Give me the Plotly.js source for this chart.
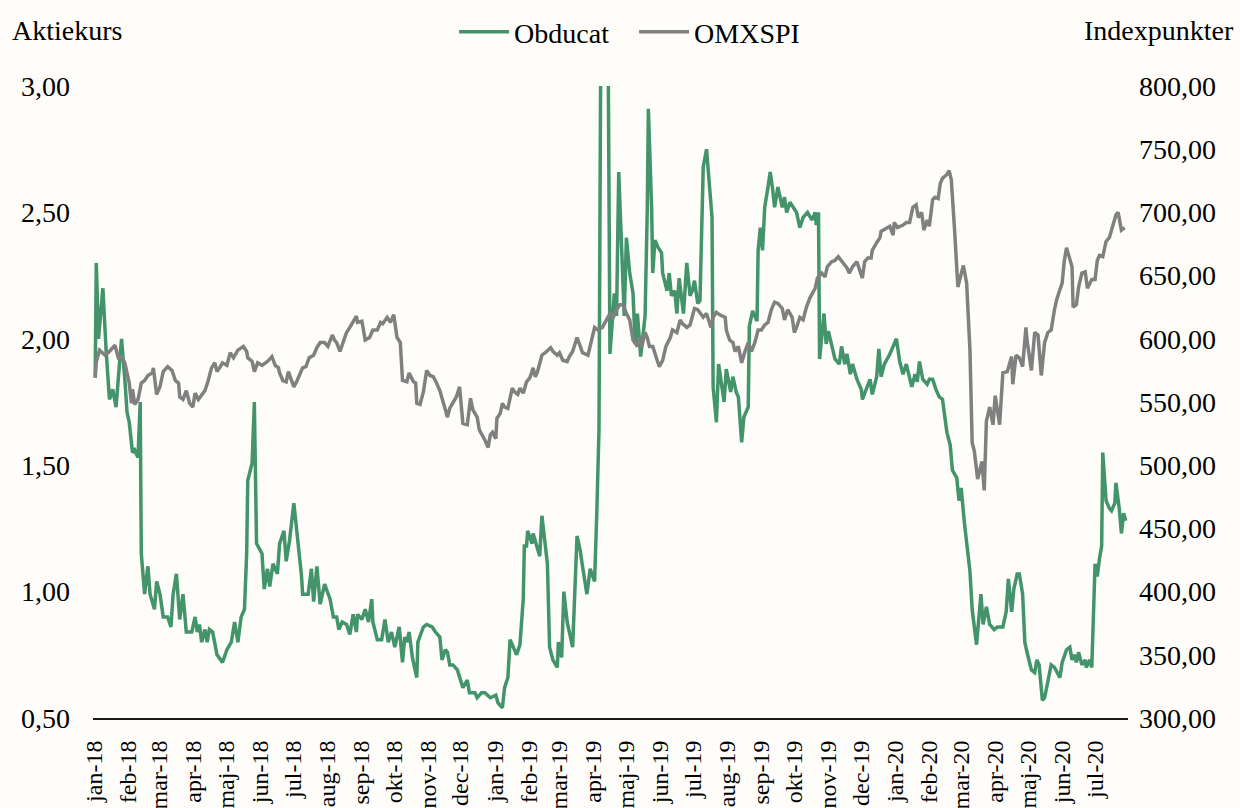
<!DOCTYPE html>
<html>
<head>
<meta charset="utf-8">
<script src="https://cdn.plot.ly/plotly-3.0.1.min.js"></script>
<style>
  html, body { margin: 0; padding: 0; background: #fefdf9; }
  #chart { width: 1240px; height: 808px; }
</style>
</head>
<body>
<div id="chart"></div>
<script>
// ---------- DATA ----------
const seriesNames = ["Obducat", "OMXSPI"];
const leftAxisTitle = "Aktiekurs";
const rightAxisTitle = "Indexpunkter";

const monthTicks = ["2018-01-01","2018-02-01","2018-03-01","2018-04-01","2018-05-01","2018-06-01","2018-07-01","2018-08-01","2018-09-01","2018-10-01","2018-11-01","2018-12-01",
  "2019-01-01","2019-02-01","2019-03-01","2019-04-01","2019-05-01","2019-06-01","2019-07-01","2019-08-01","2019-09-01","2019-10-01","2019-11-01","2019-12-01",
  "2020-01-01","2020-02-01","2020-03-01","2020-04-01","2020-05-01","2020-06-01","2020-07-01"];
const monthLabels = ["jan-18","feb-18","mar-18","apr-18","maj-18","jun-18","jul-18","aug-18","sep-18","okt-18","nov-18","dec-18",
  "jan-19","feb-19","mar-19","apr-19","maj-19","jun-19","jul-19","aug-19","sep-19","okt-19","nov-19","dec-19",
  "jan-20","feb-20","mar-20","apr-20","maj-20","jun-20","jul-20"];

// Obducat (SEK), left axis
const obd2018Dates = ["01-02","01-03","01-05","01-09","01-12","01-15","01-18","01-21","01-23","01-26",
  "01-29","01-31","02-02","02-05","02-07","02-10","02-12","02-13","02-16","02-19",
  "02-21","02-25","02-27","03-02","03-05","03-09","03-12","03-14","03-17","03-20",
  "03-23","03-26","03-31","04-03","04-05","04-07","04-09","04-12","04-14","04-16",
  "04-19","04-23","04-28","05-02","05-06","05-09","05-12","05-15","05-18","05-20",
  "05-21","05-25","05-27","05-29","06-03","06-05","06-08","06-10","06-13","06-17",
  "06-19","06-23","06-25","06-28","07-02","07-05","07-09","07-10","07-15","07-18",
  "07-20","07-23","07-26","07-30","08-04","08-07","08-10","08-12","08-15","08-19",
  "08-22","08-25","08-28","08-29","09-02","09-05","09-08","09-11","09-12","09-16",
  "09-20","09-23","09-26","09-29","10-02","10-06","10-09","10-11","10-13","10-15",
  "10-18","10-22","10-23","10-28","10-31","11-05","11-08","11-12","11-14","11-17",
  "11-19","11-21","11-24","11-28","11-30","12-03","12-07","12-09","12-14","12-16",
  "12-20","12-23","12-28"];
const obd2018Values = [1.85,2.30,2.00,2.20,1.95,1.76,1.80,1.73,1.84,2.00,
  1.84,1.71,1.67,1.55,1.56,1.53,1.75,1.15,0.99,1.10,
  0.99,0.93,1.04,0.99,0.90,0.90,0.86,0.99,1.07,0.89,
  0.99,0.84,0.84,0.90,0.84,0.87,0.80,0.85,0.80,0.85,
  0.84,0.75,0.72,0.77,0.80,0.88,0.80,0.90,0.93,1.15,
  1.44,1.51,1.75,1.19,1.15,1.01,1.09,1.02,1.11,1.07,
  1.19,1.24,1.12,1.20,1.35,1.23,1.06,0.99,0.99,1.09,
  0.96,1.10,0.95,1.03,0.97,0.90,0.90,0.85,0.88,0.87,
  0.83,0.91,0.84,0.91,0.89,0.93,0.88,0.97,0.88,0.81,
  0.81,0.89,0.80,0.84,0.78,0.86,0.72,0.82,0.80,0.84,
  0.74,0.66,0.80,0.86,0.87,0.86,0.84,0.82,0.73,0.77,
  0.76,0.71,0.71,0.69,0.66,0.62,0.65,0.60,0.60,0.58,
  0.60,0.60,0.58];

const obd2019Dates = ["01-02","01-04","01-08","01-10","01-13","01-15","01-18","01-21","01-24","01-27",
  "01-28","01-30","01-31","02-04","02-05","02-08","02-11","02-13","02-16","02-18",
  "02-20","02-23","02-27","02-28","03-03","03-05","03-08","03-10","03-13","03-17",
  "03-20","03-22","03-26","03-29","04-02","04-04","04-06","04-08","04-12","04-14",
  "04-16","04-20","04-22","04-24","04-27","04-29","05-01","05-04","05-07","05-09",
  "05-11","05-14","05-18","05-20","05-21","05-24","05-25","05-27","05-30","06-02",
  "06-03","06-07","06-09","06-11","06-14","06-16","06-18","06-20","06-22","06-25",
  "06-28","06-30","07-02","07-05","07-07","07-10","07-13","07-18","07-19","07-22",
  "07-24","07-29","07-31","08-04","08-06","08-09","08-11","08-14","08-16","08-20",
  "08-21","08-24","08-28","08-29","08-31","09-02","09-04","09-07","09-09","09-11",
  "09-13","09-16","09-20","09-22","09-24","09-27","09-30","10-03","10-06","10-09",
  "10-13","10-17","10-20","10-21","10-23","10-24","10-28","10-30","11-01","11-05",
  "11-07","11-11","11-13","11-16","11-18","11-21","11-23","11-27","12-01","12-02",
  "12-06","12-09","12-11","12-15","12-17","12-19","12-22","12-27"];
const obd2019Values = [0.59,0.56,0.54,0.62,0.66,0.81,0.78,0.75,0.79,0.97,
  1.18,1.18,1.24,1.19,1.23,1.19,1.14,1.30,1.19,1.11,
  0.78,0.73,0.70,0.80,0.74,1.00,0.88,0.84,0.78,1.22,
  1.16,1.10,0.99,1.09,1.04,1.31,1.64,3.50,3.60,3.40,
  1.94,2.18,2.09,2.66,2.31,2.09,2.40,2.26,2.18,1.98,
  2.10,1.93,2.09,2.51,2.91,2.51,2.26,2.39,2.36,2.34,
  2.26,2.19,2.26,2.17,2.19,2.10,2.24,2.17,2.10,2.30,
  2.17,2.19,2.23,2.14,2.15,2.68,2.75,2.48,1.81,1.67,
  1.90,1.75,1.88,1.79,1.85,1.79,1.77,1.59,1.69,1.73,
  2.05,2.11,2.07,2.35,2.44,2.35,2.52,2.60,2.66,2.60,
  2.52,2.60,2.52,2.56,2.50,2.54,2.52,2.50,2.44,2.48,
  2.50,2.47,2.50,2.45,2.50,1.92,2.10,1.98,2.03,1.96,
  1.92,1.90,1.97,1.90,1.94,1.86,1.90,1.84,1.80,1.76,
  1.81,1.84,1.78,1.85,1.96,1.85,1.90,1.94];

const obd2020Dates = ["01-02","01-05","01-08","01-11","01-16","01-19","01-21","01-23","01-26","01-30",
  "02-01","02-04","02-07","02-10","02-13","02-17","02-20","02-22","02-26","02-28",
  "03-01","03-04","03-09","03-11","03-15","03-19","03-21","03-24","03-27","03-31",
  "04-03","04-08","04-11","04-13","04-16","04-18","04-21","04-23","04-26","04-28",
  "04-30","05-04","05-07","05-09","05-11","05-14","05-16","05-19","05-22","05-25",
  "05-30","06-01","06-05","06-08","06-10","06-12","06-14","06-16","06-19","06-22",
  "06-23","06-26","06-28","07-01","07-03","07-05","07-07","07-08","07-11","07-14",
  "07-16","07-19","07-20","07-23","07-25","07-27","07-29"];
const obd2020Values = [2.00,1.91,1.86,1.90,1.81,1.86,1.83,1.91,1.84,1.82,
  1.84,1.84,1.80,1.77,1.76,1.63,1.58,1.48,1.45,1.36,
  1.41,1.27,1.08,0.93,0.79,0.99,0.87,0.94,0.87,0.85,
  0.86,0.86,0.92,1.05,0.92,1.01,1.07,1.07,0.99,0.80,
  0.76,0.69,0.68,0.73,0.71,0.57,0.58,0.65,0.71,0.70,
  0.66,0.72,0.77,0.78,0.73,0.75,0.72,0.76,0.71,0.73,
  0.70,0.73,0.70,1.11,1.06,1.13,1.18,1.55,1.36,1.33,
  1.32,1.35,1.43,1.33,1.23,1.31,1.28];

// OMXSPI (index points), right axis
const omx2018Dates = ["01-02","01-03","01-06","01-11","01-15","01-20","01-23","01-26","01-29","01-31",
  "02-02","02-04","02-05","02-07","02-10","02-13","02-16","02-19","02-23","02-24",
  "02-27","03-02","03-05","03-09","03-13","03-16","03-19","03-20","03-23","03-26",
  "03-29","04-01","04-03","04-06","04-09","04-12","04-15","04-18","04-21","04-23",
  "04-26","04-28","05-02","05-05","05-08","05-12","05-17","05-20","05-21","05-25",
  "05-27","05-30","06-03","06-05","06-08","06-12","06-15","06-18","06-19","06-22",
  "06-25","06-27","06-30","07-02","07-05","07-09","07-10","07-13","07-16","07-20",
  "07-23","07-26","07-30","08-02","08-06","08-08","08-10","08-13","08-16","08-19",
  "08-22","08-25","08-28","08-29","09-02","09-05","09-09","09-12","09-16","09-19",
  "09-21","09-25","09-28","10-01","10-04","10-07","10-09","10-13","10-15","10-19",
  "10-21","10-22","10-25","10-28","10-31","11-03","11-06","11-09","11-12","11-15",
  "11-19","11-21","11-24","11-27","11-30","12-03","12-07","12-10","12-12","12-16",
  "12-18","12-20","12-23","12-26","12-28","12-30"];
const omx2018Values = [569,582,591,587,590,595,585,586,581,574,
  565,549,560,548,552,565,567,571,573,577,
  556,562,574,578,575,567,565,554,552,559,
  549,546,557,552,555,559,567,577,581,574,
  578,581,579,589,585,591,594,590,585,582,
  574,581,579,580,582,586,579,577,573,567,
  566,574,567,562,567,575,577,578,585,587,
  593,597,597,594,603,599,597,590,597,605,
  609,613,618,613,614,599,601,607,607,613,
  612,617,613,619,601,597,567,566,573,566,
  565,549,548,558,575,571,570,565,559,550,
  538,545,549,554,562,533,532,553,544,538,
  528,525,520,514,524,526];

const omx2019Dates = ["01-02","01-03","01-06","01-08","01-10","01-13","01-17","01-19","01-22","01-24",
  "01-27","01-30","02-02","02-05","02-07","02-09","02-13","02-16","02-21","02-23",
  "02-27","03-01","03-04","03-08","03-10","03-13","03-17","03-20","03-22","03-27",
  "03-30","04-02","04-05","04-09","04-11","04-13","04-16","04-19","04-22","04-25",
  "04-28","05-01","05-04","05-07","05-11","05-13","05-15","05-18","05-20","05-22",
  "05-25","05-29","05-31","06-03","06-06","06-10","06-12","06-16","06-19","06-21",
  "06-25","06-28","07-02","07-05","07-08","07-10","07-13","07-17","07-19","07-22",
  "07-25","07-30","07-31","08-03","08-06","08-08","08-11","08-14","08-17","08-20",
  "08-23","08-26","08-29","09-01","09-04","09-07","09-10","09-13","09-16","09-20",
  "09-22","09-25","09-29","10-01","10-03","10-06","10-09","10-12","10-15","10-20",
  "10-22","10-26","10-29","10-31","11-04","11-07","11-10","11-11","11-14","11-18",
  "11-20","11-23","11-27","11-29","12-02","12-04","12-07","12-10","12-11","12-15",
  "12-18","12-19","12-24","12-27","12-30","12-31"];
const omx2019Values = [521,537,541,549,546,545,561,558,556,561,
  557,566,569,577,570,574,587,589,593,590,
  587,589,583,582,586,590,601,594,589,587,
  599,609,607,609,612,615,620,617,623,627,
  627,620,615,599,594,601,594,605,601,594,
  594,583,578,583,594,601,607,605,615,612,
  609,611,624,623,619,617,620,609,617,621,
  619,617,607,599,597,590,594,581,590,597,
  590,597,607,607,611,613,623,629,628,624,
  615,623,617,605,609,617,615,625,632,640,
  648,652,649,657,661,662,665,664,660,656,
  652,657,661,656,648,661,664,664,670,676,
  680,685,688,689,682,692];

const omx2020Dates = ["01-03","01-08","01-11","01-14","01-17","01-20","01-22","01-25","01-27","01-30",
  "02-01","02-04","02-06","02-09","02-11","02-13","02-17","02-19","02-21","02-22",
  "02-24","02-27","03-01","03-03","03-06","03-09","03-11","03-13","03-16","03-20",
  "03-22","03-24","03-27","03-30","04-01","04-05","04-08","04-12","04-16","04-17",
  "04-20","04-23","04-26","04-29","04-30","05-04","05-07","05-10","05-13","05-16",
  "05-19","05-22","05-25","05-27","05-30","06-01","06-03","06-05","06-07","06-10",
  "06-11","06-14","06-16","06-19","06-22","06-24","06-28","07-01","07-03","07-05",
  "07-08","07-11","07-14","07-17","07-20","07-22","07-25","07-28"];
const omx2020Values = [688,690,692,692,704,706,696,700,686,694,
  689,710,712,711,723,727,730,733,726,715,
  686,641,652,658,644,591,518,511,489,503,
  480,535,546,532,555,532,573,574,586,564,
  587,585,578,609,599,575,605,603,571,597,
  605,607,623,631,639,644,662,672,666,657,
  625,627,641,652,653,640,647,647,662,666,
  665,677,680,688,698,700,686,688];

// ---------- BUILD ----------
function withYear(year, mmdd) { return mmdd.map(d => year + "-" + d); }
const obdDates = [].concat(withYear("2018", obd2018Dates), withYear("2019", obd2019Dates), withYear("2020", obd2020Dates));
const obdValues = [].concat(obd2018Values, obd2019Values, obd2020Values);
const omxDates = [].concat(withYear("2018", omx2018Dates), withYear("2019", omx2019Dates), withYear("2020", omx2020Dates));
const omxValues = [].concat(omx2018Values, omx2019Values, omx2020Values);

const FONT = "Liberation Serif, Times New Roman, serif";
const BG = "#fefdf9";

const traces = [
  { x: obdDates, y: obdValues, name: seriesNames[0], type: "scatter", mode: "lines",
    line: { color: "#43946a", width: 3.5 }, yaxis: "y" },
  { x: omxDates, y: omxValues, name: seriesNames[1], type: "scatter", mode: "lines",
    line: { color: "#808080", width: 3.5 }, yaxis: "y2" }
];

const layout = {
  width: 1240, height: 808,
  paper_bgcolor: BG, plot_bgcolor: BG,
  separators: ",.",
  font: { family: FONT, size: 28, color: "#000" },
  margin: { l: 93, r: 112, t: 86, b: 90, autoexpand: false },
  showlegend: true,
  legend: { orientation: "h", x: 0.5228, xanchor: "center", y: 1.0854, yanchor: "middle",
    itemwidth: 50, entrywidth: 115, entrywidthmode: "pixels",
    font: { family: FONT, size: 28, color: "#000" }, bgcolor: "rgba(0,0,0,0)" },
  xaxis: {
    type: "date", range: ["2017-12-31", "2020-07-31"],
    tickmode: "array", tickvals: monthTicks, ticktext: monthLabels,
    tickangle: -90, tickfont: { family: FONT, size: 24, color: "#000" },
    showline: true, linecolor: "#1a1a1a", linewidth: 2, automargin: false,
    showgrid: false, zeroline: false, ticks: "", ticklabelstandoff: 11
  },
  yaxis: {
    range: [0.5, 3.0], dtick: 0.5, tick0: 0.5, tickformat: ".2f", automargin: false,
    showgrid: false, zeroline: false, showline: false, ticks: "",
    tickfont: { family: FONT, size: 28, color: "#000" }, ticklabelstandoff: 22
  },
  yaxis2: {
    overlaying: "y", side: "right", automargin: false,
    range: [300, 800], dtick: 50, tick0: 300, tickformat: ".2f",
    showgrid: false, zeroline: false, showline: false, ticks: "",
    tickfont: { family: FONT, size: 28, color: "#000" }, ticklabelstandoff: 10
  },
  annotations: [
    { text: leftAxisTitle, xref: "paper", yref: "paper", x: -0.0802, y: 1.0886,
      xanchor: "left", yanchor: "middle", showarrow: false,
      font: { family: FONT, size: 28, color: "#000" } },
    { text: rightAxisTitle, xref: "paper", yref: "paper", x: 1.1043, y: 1.0886,
      xanchor: "right", yanchor: "middle", showarrow: false,
      font: { family: FONT, size: 28, color: "#000" } }
  ]
};

Plotly.newPlot("chart", traces, layout, { displayModeBar: false, responsive: false });
</script>
</body>
</html>
